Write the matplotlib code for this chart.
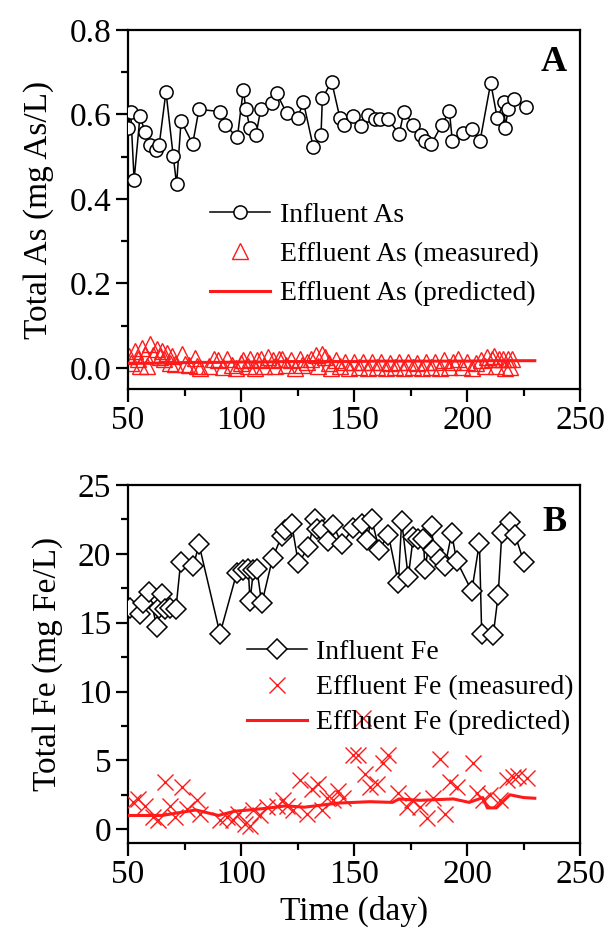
import matplotlib
matplotlib.use("Agg")
import matplotlib.pyplot as plt
from matplotlib.ticker import MultipleLocator

plt.rcParams['font.family'] = ['Liberation Serif', 'DejaVu Serif']

# ---------------- Panel A data ----------------
as_inf_day = [50.1, 51.2, 52.7, 55.3, 57.5, 59.7, 62.4, 63.8, 66.8, 70.0, 71.5, 73.5, 78.6, 81.4,
              90.7, 92.9, 98.4, 101.0, 102.2, 104.0, 106.6, 108.8, 113.6, 115.8, 120.2, 125.1,
              127.6, 132.0, 135.4, 136.0, 140.1, 143.8, 145.6, 149.7, 153.1, 156.3, 159.3, 161.5,
              164.9, 170.0, 172.1, 176.2, 179.5, 181.4, 184.1, 188.8, 192.2, 193.5, 198.4, 202.1,
              205.8, 210.5, 213.4, 216.4, 216.8, 218.3, 220.8, 226.0]
as_inf_val = [0.567, 0.607, 0.445, 0.596, 0.559, 0.528, 0.516, 0.528, 0.654, 0.502, 0.435, 0.585,
              0.530, 0.612, 0.607, 0.575, 0.546, 0.658, 0.612, 0.567, 0.551, 0.614, 0.626, 0.650,
              0.603, 0.592, 0.630, 0.522, 0.551, 0.638, 0.678, 0.591, 0.575, 0.596, 0.573, 0.599,
              0.589, 0.589, 0.589, 0.554, 0.607, 0.575, 0.551, 0.538, 0.529, 0.575, 0.608, 0.538,
              0.557, 0.565, 0.538, 0.675, 0.591, 0.630, 0.569, 0.612, 0.636, 0.617]

as_eff_day = [50.5, 51.5, 53.0, 54.5, 55.3, 56.1, 57.5, 58.2, 59.7, 61.0, 62.7, 64.0, 64.9, 66.0,
              67.1, 68.5, 69.3, 71.0, 73.8, 75.0, 77.0, 79.6, 80.6, 82.0,
              86, 88, 90, 92, 94, 96, 98, 100, 101, 103, 104, 106, 107, 109, 110, 112, 114, 115,
              117, 118, 120, 122, 124, 126, 127, 129, 131, 133, 134, 136, 137, 139, 140, 142, 144,
              146, 148, 150, 152, 154, 156, 158, 160, 162, 164, 166, 168, 170, 172, 174, 176, 178,
              180, 182, 184, 186, 188, 190, 192, 194, 196, 198, 200, 202, 204, 206, 208, 209, 211,
              212, 213, 214, 216, 217, 218, 219, 220]
as_eff_val = [0.028, 0.012, 0.040, 0.020, 0.005, 0.048, 0.030, 0.005, 0.056, 0.030, 0.044, 0.025,
              0.040, 0.020, 0.036, 0.012, 0.028, 0.010, 0.032, 0.010, 0.008, 0.024, 0.005, 0.000,
              0.005, 0.022, 0.018, 0.003, 0.022, 0.008, 0.000, 0.012, 0.018, 0.004, 0.020, 0.000,
              0.018, 0.022, 0.005, 0.025, 0.018, 0.004, 0.022, 0.020, 0.006, 0.018, 0.000, 0.020,
              0.008, 0.015, 0.022, 0.030, 0.005, 0.032, 0.025, 0.012, 0.000, 0.018, 0.005, 0.015,
              0.000, 0.015, 0.003, 0.015, 0.000, 0.015, 0.002, 0.015, 0.000, 0.012, 0.003, 0.015,
              0.000, 0.015, 0.002, 0.012, 0.000, 0.015, 0.003, 0.015, 0.000, 0.018, 0.002, 0.015,
              0.020, 0.003, 0.015, 0.000, 0.012, 0.018, 0.005, 0.025, 0.020, 0.028, 0.005, 0.022,
              0.020, 0.000, 0.020, 0.003, 0.020]

as_pred_day = [50, 60, 70, 80, 90, 100, 110, 120, 130, 140, 150, 160, 170, 180, 190, 200, 210, 220, 230]
as_pred_val = [0.011, 0.011, 0.012, 0.013, 0.013, 0.014, 0.014, 0.015, 0.015, 0.015, 0.015, 0.016,
               0.016, 0.016, 0.016, 0.016, 0.017, 0.017, 0.017]

# ---------------- Panel B data ----------------
fe_inf_day = [50.9, 55.3, 56.8, 59.4, 62.7, 63.9, 64.9, 66.4, 68.6, 71.2, 73.3, 78.9, 81.4, 90.7,
              98.1, 101.0, 103.2, 104.0, 105.5, 107.0, 109.2, 114.0, 118.0, 119.5, 122.4, 125.4,
              129.8, 132.7, 133.5, 135.7, 138.6, 140.8, 144.6, 149.7, 153.4, 155.6, 157.8, 161.2,
              165.2, 169.6, 171.1, 174.0, 176.2, 178.5, 180.7, 181.4, 184.4, 185.1, 188.0, 190.3,
              193.2, 195.4, 202.1, 205.5, 206.5, 211.6, 213.8, 215.4, 219.0, 221.2, 225.2]
fe_inf_val = [16.1, 15.6, 16.4, 17.2, 14.7, 16.1, 17.1, 16.0, 16.1, 16.0, 19.4, 19.1, 20.7, 14.2,
              18.6, 18.8, 18.9, 16.6, 18.8, 18.9, 16.4, 19.7, 21.3, 21.7, 22.2, 19.3,
              20.5, 22.5, 21.8, 21.7, 20.9, 22.1, 20.7, 21.9, 22.2, 21.0, 22.5, 20.3,
              21.4, 17.9, 22.4, 18.3, 21.2, 21.1, 21.1, 18.9, 22.0, 20.3, 19.6, 19.1,
              21.5, 19.5, 17.3, 20.8, 14.2, 14.1, 17.0, 21.5, 22.3, 21.4, 19.4]

fe_eff_day = [52.3, 54.6, 57.5, 61.2, 63.4, 66.4, 68.6, 70.8, 73.7, 76.0, 80.4, 81.9, 90.7, 93.7,
              96.6, 98.8, 101.8, 104.0, 105.5, 108.4, 111.4, 115.8, 118.7, 120.2, 123.1, 126.1,
              129.1, 131.3, 134.2, 135.7, 137.9, 140.8, 143.1, 145.3, 149.7, 151.9, 154.0, 154.9,
              157.1, 160.0, 163.0, 165.2, 169.6, 173.3, 175.5, 179.2, 182.2, 185.1, 188.0, 190.3,
              192.5, 195.4, 202.8, 204.3, 207.2, 210.2, 214.6, 217.6, 220.5, 222.7, 226.4]
fe_eff_val = [2.0, 2.2, 1.7, 0.9, 0.65, 3.4, 1.7, 0.9, 3.1, 1.5, 2.1, 1.1, 0.65, 0.9,
              0.65, 1.1, 0.4, 0.2, 1.4, 1.0, 1.6, 1.7, 2.1, 1.7, 1.4, 3.55,
              1.1, 2.9, 3.3, 1.4, 2.3, 2.1, 2.8, 2.3, 5.4, 5.4, 8.1, 4.0,
              3.1, 3.3, 4.8, 5.4, 2.6, 1.6, 2.1, 1.6, 0.8, 2.3, 5.1, 1.1,
              3.4, 3.1, 4.8, 2.6, 2.1, 2.5, 2.1, 3.55, 3.8, 3.9, 3.7]

fe_pred_day = [50, 65, 80, 90, 97, 110, 120, 128, 143, 157, 167, 170, 179, 194, 201, 207, 209, 213,
               219, 225, 230]
fe_pred_val = [1.0, 1.0, 1.4, 1.0, 1.3, 1.5, 1.7, 1.6, 1.9, 2.0, 1.95, 2.2, 2.1, 2.2, 1.95, 2.3,
               1.55, 1.55, 2.5, 2.3, 2.25]

RED = '#ff1a1a'
FS_TICK = 24
FS_LAB = 24
FS_LEG = 20

W, H = 609, 938
fig = plt.figure(figsize=(W / 100, H / 100), dpi=100)
L, R = 128 / W, 580 / W
axA = fig.add_axes([L, 1 - 389 / H, R - L, (389 - 30) / H])
axB = fig.add_axes([L, 1 - 843 / H, R - L, (843 - 485) / H])


def style(ax):
    for s in ax.spines.values():
        s.set_linewidth(1.6)
    ax.tick_params(which='major', direction='out', length=9, width=1.6, labelsize=FS_TICK, pad=3)
    ax.tick_params(which='minor', direction='out', length=5, width=1.6)
    ax.tick_params(top=False, right=False)
    ax.set_xlim(50, 250)
    ax.xaxis.set_major_locator(MultipleLocator(50))
    ax.xaxis.set_minor_locator(MultipleLocator(25))


# Panel A
axA.plot(as_inf_day, as_inf_val, '-o', color='black', lw=1.1, ms=9.5, mfc='white', mec='black',
         mew=1.1, label='Influent As', zorder=3)
axA.plot(as_eff_day, as_eff_val, '^', ls='none', ms=11, mfc='none', mec=RED, mew=1.0,
         label='Effluent As (measured)', zorder=2)
axA.plot(as_pred_day, as_pred_val, '-', color=RED, lw=2.2, label='Effluent As (predicted)', zorder=4)
axA.set_ylim(-0.05, 0.8)
axA.yaxis.set_major_locator(MultipleLocator(0.2))
axA.yaxis.set_minor_locator(MultipleLocator(0.1))
axA.yaxis.set_major_formatter(matplotlib.ticker.FormatStrFormatter('%.1f'))
style(axA)
axA.set_ylabel('Total As (mg As/L)', fontsize=FS_LAB, labelpad=11)
axA.text(0.97, 0.91, 'A', transform=axA.transAxes, fontsize=26, fontweight='bold',
         ha='right', va='center')
legA = axA.legend(loc='upper left', bbox_to_anchor=(0.181, 0.52), frameon=False, fontsize=FS_LEG,
                  handlelength=2.15, handletextpad=0.36, labelspacing=0.5, borderpad=0,
                  borderaxespad=0)

# Panel B
axB.plot(fe_inf_day, fe_inf_val, '-D', color='black', lw=1.1, ms=10, mfc='white', mec='black',
         mew=1.1, label='Influent Fe', zorder=3)
axB.plot(fe_eff_day, fe_eff_val, 'x', ls='none', ms=12, color=RED, mew=1.0,
         label='Effluent Fe (measured)', zorder=5)
axB.plot(fe_pred_day, fe_pred_val, '-', color=RED, lw=2.2, label='Effluent Fe (predicted)', zorder=4)
axB.set_ylim(-1, 25)
axB.yaxis.set_major_locator(MultipleLocator(5))
axB.yaxis.set_minor_locator(MultipleLocator(2.5))
style(axB)
axB.set_ylabel('Total Fe (mg Fe/L)', fontsize=FS_LAB, labelpad=11)
axB.set_xlabel('Time (day)', fontsize=FS_LAB, labelpad=4)
axB.text(0.97, 0.895, 'B', transform=axB.transAxes, fontsize=26, fontweight='bold',
         ha='right', va='center')
legB = axB.legend(loc='upper left', bbox_to_anchor=(0.263, 0.568), frameon=False, fontsize=FS_LEG,
                  handlelength=2.15, handletextpad=0.33, labelspacing=0.35, borderpad=0,
                  borderaxespad=0)

fig.savefig('out.png', dpi=100)
